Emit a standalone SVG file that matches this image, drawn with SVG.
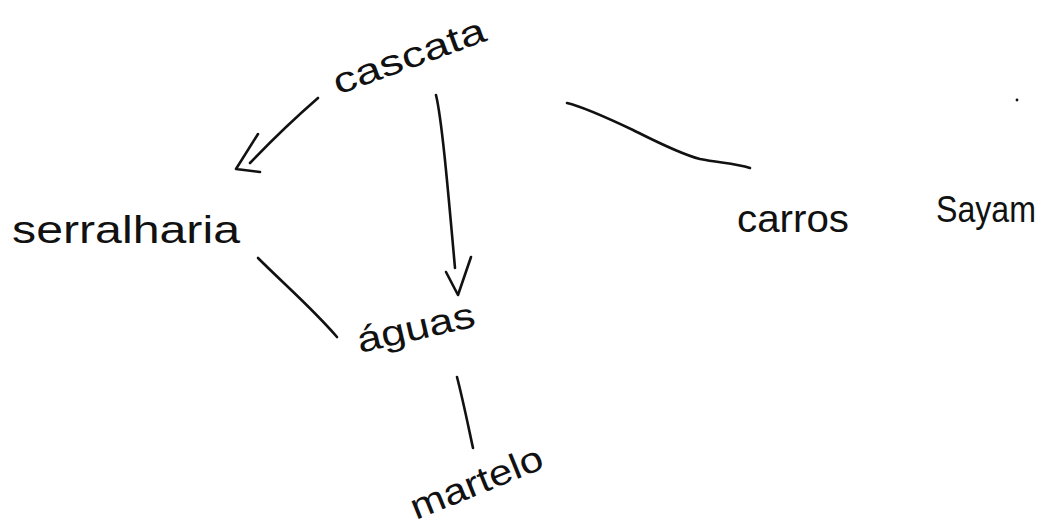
<svg xmlns="http://www.w3.org/2000/svg" width="1055" height="529" viewBox="0 0 1055 529">
  <style>
    .lbl { font-family: "Liberation Sans", "DejaVu Sans", sans-serif; fill: #111; }
    .ln { fill: none; stroke: #111; stroke-width: 2.6; stroke-linecap: round; stroke-linejoin: round; }
  </style>
  <rect width="1055" height="529" fill="#ffffff"/>

  <!-- connectors -->
  <g id="connectors">
    <!-- cascata -> serralharia -->
    <path class="ln" d="M318,98 C295,118 272,140 250,163"/>
    <path class="ln" d="M258,134 L236,169 L260,172"/>
    <!-- cascata -> águas -->
    <path class="ln" d="M436,95 C442,120 448,190 455,268"/>
    <path class="ln" d="M446,272 L458,295 L471,257"/>
    <!-- cascata - carros -->
    <path class="ln" d="M567,103 C580,106 595,112 633,130 C655,141 680,154 700,159 C720,163 735,163 750,168"/>
    <!-- serralharia - águas -->
    <path class="ln" d="M258,258 C285,285 312,308 337,337"/>
    <!-- águas - martelo -->
    <path class="ln" d="M457,377 C463,400 468,425 473,448"/>
  </g>

  <g id="node-cascata">
    <text class="lbl" font-size="36" textLength="160" lengthAdjust="spacingAndGlyphs" transform="translate(338,95) rotate(-20)">cascata</text>
  </g>
  <g id="node-serralharia">
    <text class="lbl" x="12" y="243" font-size="38" textLength="228" lengthAdjust="spacingAndGlyphs">serralharia</text>
  </g>
  <g id="node-aguas">
    <text class="lbl" font-size="36" textLength="120" lengthAdjust="spacingAndGlyphs" transform="translate(360,353) rotate(-13)">águas</text>
  </g>
  <g id="node-martelo">
    <text class="lbl" font-size="36" textLength="140" lengthAdjust="spacingAndGlyphs" transform="translate(416,520) rotate(-22)">martelo</text>
  </g>
  <g id="node-carros">
    <text class="lbl" x="737" y="232" font-size="38" textLength="112" lengthAdjust="spacingAndGlyphs">carros</text>
  </g>
  <g id="node-sayam">
    <text class="lbl" x="936" y="222" font-size="36" textLength="100" lengthAdjust="spacingAndGlyphs">Sayam</text>
  </g>
  <circle cx="1017" cy="100" r="1.4" fill="#111"/>
</svg>
